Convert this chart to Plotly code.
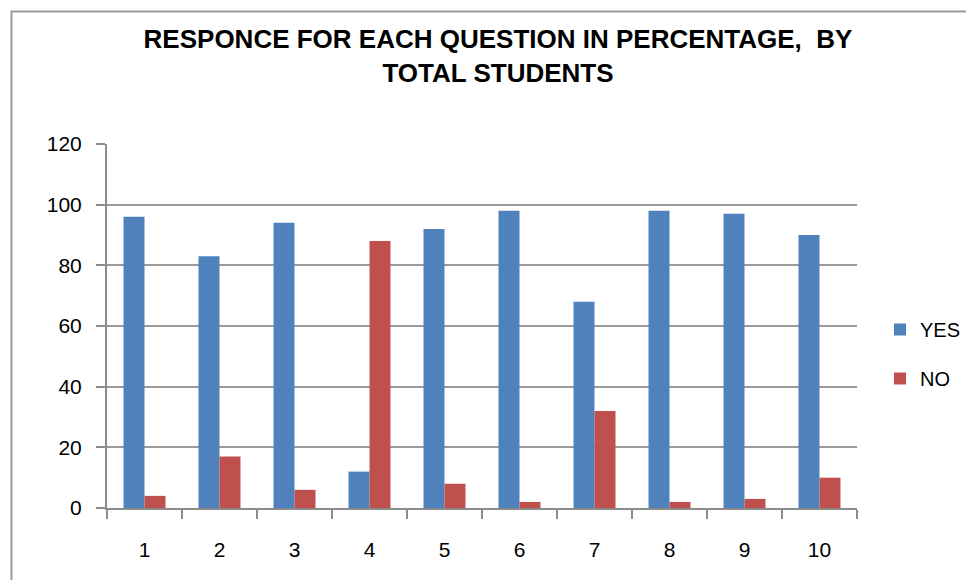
import plotly.graph_objects as go

questions = ["1", "2", "3", "4", "5", "6", "7", "8", "9", "10"]
yes_values = [96, 83, 94, 12, 92, 98, 68, 98, 97, 90]
no_values = [4, 17, 6, 88, 8, 2, 32, 2, 3, 10]
y_ticks = [0, 20, 40, 60, 80, 100, 120]

font_family = "Liberation Sans, Arial, sans-serif"

fig = go.Figure()
fig.add_trace(go.Bar(x=questions, y=yes_values, name="YES",
                     marker=dict(color="#4F81BD", line=dict(width=0)),
                     legendgroup="yes"))
fig.add_trace(go.Bar(x=questions, y=no_values, name="NO",
                     marker=dict(color="#C0504D", line=dict(width=0)),
                     legendgroup="no"))

# page offset from default body margin; figure sized to avoid scrollbars
OFF = 8
FW, FH = 974 - 2 * OFF, 588 - 2 * OFF
# desired absolute plot area in window pixels
PX0, PX1, PY0, PY1 = 107, 857, 144, 508
L = PX0 - OFF
T = PY0 - OFF
R = FW + OFF - PX1
B = FH + OFF - PY1
W, H = PX1 - PX0, PY1 - PY0

fig.update_layout(
    width=FW, height=FH,
    margin=dict(l=L, r=R, t=T, b=B, autoexpand=False),
    paper_bgcolor="white", plot_bgcolor="white",
    barmode="group", bargap=0.44, bargroupgap=0,
    title=dict(
        text="RESPONCE FOR EACH QUESTION IN PERCENTAGE,  BY<br>TOTAL STUDENTS",
        x=(498 - OFF) / FW, xanchor="center", xref="container",
        y=1 - (48 - OFF) / FH, yanchor="middle", yref="container",
        font=dict(family=font_family, size=26, color="black", weight="bold"),
    ),
    font=dict(family=font_family, size=21, color="black"),
    legend=dict(
        x=(880 - PX0) / W, xanchor="left",
        y=(PY1 - 354) / H, yanchor="middle",
        traceorder="grouped", tracegroupgap=20,
        font=dict(size=20, family=font_family, color="black"),
        bgcolor="rgba(0,0,0,0)",
    ),
    xaxis=dict(
        type="category", showgrid=False,
        showline=True, linecolor="#8c8c8c", linewidth=2,
        ticks="outside", tickson="boundaries", ticklen=9,
        tickcolor="#8c8c8c", tickwidth=2,
        ticklabelstandoff=22,
        tickfont=dict(size=21, family=font_family, color="black"),
    ),
    yaxis=dict(
        range=[0, 120], tickvals=y_ticks,
        showgrid=True, gridcolor="#9a9a9a", gridwidth=1.5,
        showline=True, linecolor="#8c8c8c", linewidth=2,
        ticks="outside", ticklen=9, tickcolor="#8c8c8c", tickwidth=2,
        ticklabelstandoff=10,
        zeroline=False,
        tickfont=dict(size=21, family=font_family, color="black"),
    ),
    shapes=[dict(
        type="rect", xref="paper", yref="paper",
        x0=(11.5 - PX0) / W, x1=1.5,
        y0=-0.5, y1=(PY1 - 11.5) / H,
        line=dict(color="#9a9a9a", width=2), fillcolor="rgba(0,0,0,0)",
        layer="below",
    )],
)

fig.write_html("out.html")
